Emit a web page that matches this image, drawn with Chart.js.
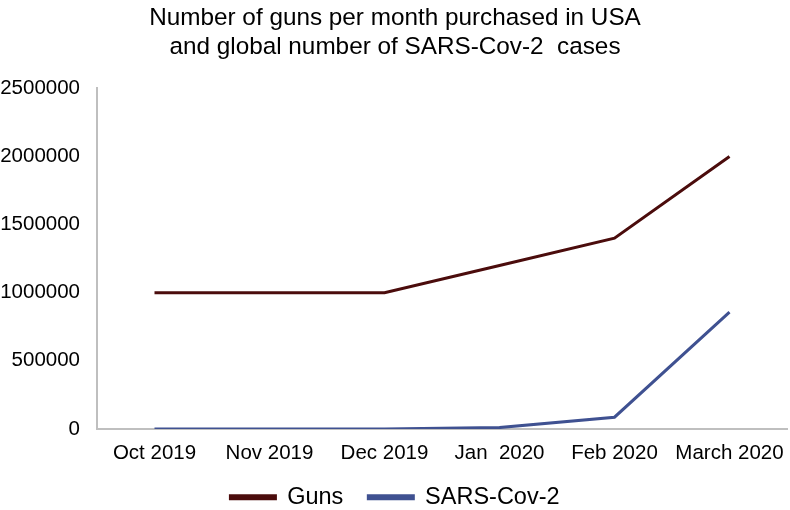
<!DOCTYPE html>
<html>
<head>
<meta charset="utf-8">
<script src="https://cdn.jsdelivr.net/npm/chart.js"></script>
<style>
  body { margin: 0; background: #fff; }
  #wrap { width: 790px; height: 510px; }
</style>
</head>
<body>
<div id="wrap"><canvas id="myChart"></canvas></div>
<script>
const months = ["Oct 2019", "Nov 2019", "Dec 2019", "Jan  2020", "Feb 2020", "March 2020"];
const guns = [1000000, 1000000, 1000000, 1200000, 1400000, 2000000];
const sarsCov2 = [0, 0, 27, 9800, 86000, 857000];
const yTicks = [0, 500000, 1000000, 1500000, 2000000, 2500000];

const font = "'Liberation Sans', Arial, sans-serif";

new Chart(document.querySelector('#myChart'), {
  type: 'line',
  data: {
    labels: months,
    datasets: [{
      label: 'Guns',
      data: guns,
      borderColor: '#4b0c0c',
      backgroundColor: '#4b0c0c',
      borderWidth: 3,
      pointRadius: 0,
      tension: 0
    }, {
      label: 'SARS-Cov-2',
      data: sarsCov2,
      borderColor: '#3f5191',
      backgroundColor: '#3f5191',
      borderWidth: 3,
      pointRadius: 0,
      tension: 0
    }]
  },
  options: {
    responsive: true,
    maintainAspectRatio: false,
    animation: false,
    layout: { padding: { left: 0, right: 0, top: 4, bottom: -9 } },
    plugins: {
      title: {
        display: true,
        text: ['Number of guns per month purchased in USA', 'and global number of SARS-Cov-2  cases'],
        color: '#000',
        font: { family: font, size: 24.3, weight: 'normal', lineHeight: 1.2 },
        padding: { top: 0, bottom: 26 }
      },
      legend: {
        position: 'bottom',
        labels: {
          color: '#000',
          font: { family: font, size: 23.5 },
          boxWidth: 45,
          boxHeight: 3,
          padding: 25
        }
      },
      tooltip: { enabled: false }
    },
    scales: {
      x: {
        offset: true,
        afterFit: (axis) => { axis.paddingLeft = 0; axis.paddingRight = 3; axis.height -= 17; },
        grid: { display: false, drawTicks: false },
        border: { display: true, color: '#bfbfbf', width: 2 },
        ticks: { color: '#000', font: { family: font, size: 20.5 }, padding: 12, maxRotation: 0, autoSkip: false }
      },
      y: {
        min: 0,
        max: 2500000,
        afterBuildTicks: (axis) => { axis.ticks = yTicks.map(v => ({ value: v })); },
        afterFit: (axis) => { axis.width = 97; },
        grid: { display: false, drawTicks: false },
        border: { display: true, color: '#bfbfbf', width: 2 },
        ticks: { color: '#000', font: { family: font, size: 20.5 }, padding: 17, callback: (v) => String(v) }
      }
    }
  }
});
</script>
</body>
</html>
